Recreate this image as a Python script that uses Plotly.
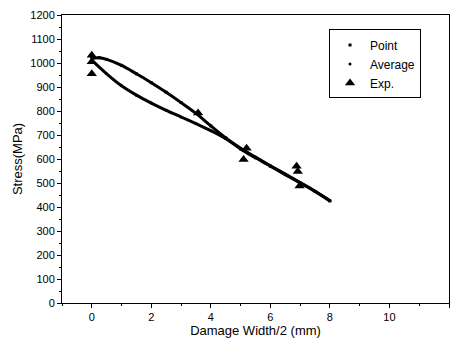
import plotly.graph_objects as go

# Data
point_x = [0, 0.25, 0.5, 1, 1.5, 2, 2.5, 3, 3.5, 4, 4.5, 5, 5.5, 6, 6.5, 7, 7.5, 8]
point_y = [1020, 1022, 1015, 990, 955, 918, 878, 835, 790, 738, 688, 642, 605, 570, 535, 500, 465, 425]

avg_x = [0, 0.5, 1, 1.5, 2, 2.5, 3, 3.5, 4, 4.5, 5, 5.5, 6, 6.5, 7, 7.5, 8]
avg_y = [1012, 955, 905, 866, 833, 803, 775, 747, 718, 685, 645, 608, 572, 537, 502, 466, 427]

exp_x = [0, 0, 0, 3.57, 5.2, 5.1, 6.88, 6.92, 6.98]
exp_y = [1032, 1005, 955, 792, 645, 598, 570, 548, 488]

x_ticks = [0, 2, 4, 6, 8, 10, 12]
y_ticks = list(range(0, 1201, 100))

FONT = "Liberation Sans, Arial, sans-serif"

fig = go.Figure()

# curves
fig.add_trace(go.Scatter(x=point_x, y=point_y, mode="lines", line=dict(color="black", width=3, shape="spline"),
                         showlegend=False, hoverinfo="skip"))
fig.add_trace(go.Scatter(x=avg_x, y=avg_y, mode="lines", line=dict(color="black", width=3, shape="spline"),
                         showlegend=False, hoverinfo="skip"))
# legend-carrying marker traces
fig.add_trace(go.Scatter(x=point_x, y=point_y, mode="markers", name="Point",
                         marker=dict(symbol="square", size=3, color="black")))
fig.add_trace(go.Scatter(x=avg_x, y=avg_y, mode="markers", name="Average",
                         marker=dict(symbol="circle", size=3, color="black")))
fig.add_trace(go.Scatter(x=exp_x, y=exp_y, mode="markers", name="Exp.",
                         marker=dict(symbol="triangle-up", size=9, color="black")))

axis_common = dict(showline=True, linecolor="black", linewidth=1, mirror=True, showgrid=False, zeroline=False,
                   ticks="outside", ticklen=4, tickcolor="black", automargin=False,
                   tickfont=dict(family=FONT, size=11, color="black"))

fig.update_layout(
    width=451, height=344,
    margin=dict(l=62, r=2, t=15, b=41),
    paper_bgcolor="white", plot_bgcolor="white",
    font=dict(family=FONT, color="black"),
    xaxis=dict(range=[-1, 12], tickvals=x_ticks,
               title=dict(text="Damage Width/2 (mm)", font=dict(family=FONT, size=13), standoff=2),
               minor=dict(dtick=1, ticks="outside", ticklen=2, tickcolor="black"),
               **axis_common),
    yaxis=dict(range=[0, 1200], tickvals=y_ticks,
               title=dict(text="Stress(MPa)", font=dict(family=FONT, size=13), standoff=4),
               minor=dict(dtick=50, ticks="outside", ticklen=2, tickcolor="black"),
               **axis_common),
    legend=dict(x=0.69, y=0.95, xanchor="left", yanchor="top", bordercolor="black", borderwidth=1,
                bgcolor="white", font=dict(family=FONT, size=12), itemsizing="trace",
                tracegroupgap=0),
    showlegend=True,
)

fig.write_html("out.html", config={"displayModeBar": False},
               post_script="document.body.style.margin='0';document.body.style.padding='0';")
